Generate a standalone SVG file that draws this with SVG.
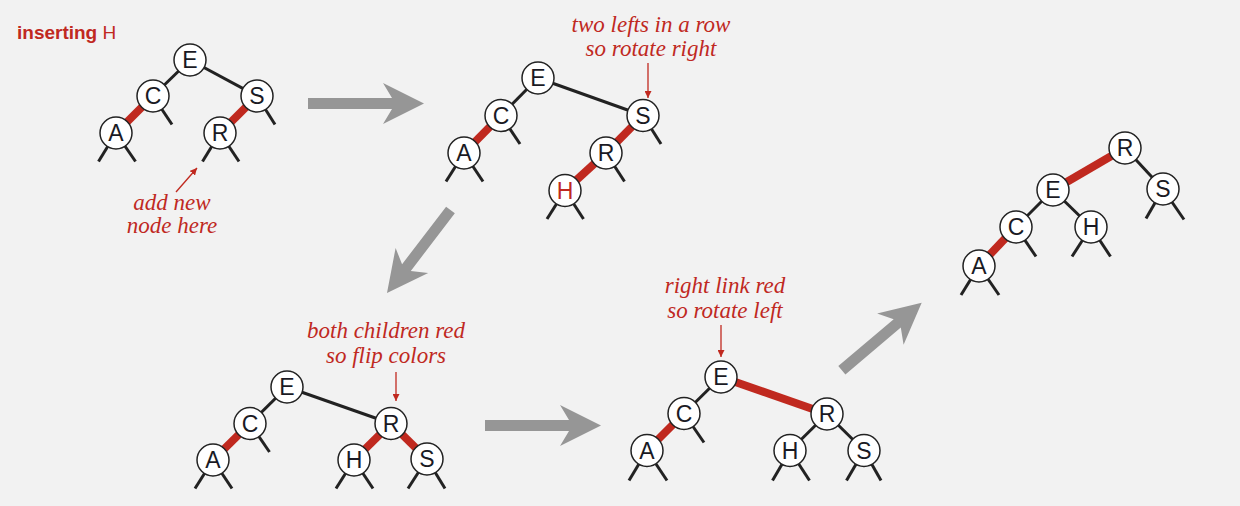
<svg xmlns="http://www.w3.org/2000/svg" width="1240" height="506" viewBox="0 0 1240 506">
<style>
.bg{fill:#f2f2f2}
.blk{stroke:#222;stroke-width:3;fill:none}
.red{stroke:#c0291f;stroke-width:8;fill:none}
.node circle{fill:#fff;stroke:#222;stroke-width:1.5}
.node text{font-family:"Liberation Sans",Arial,sans-serif;font-size:23px;fill:#1a1a24;text-anchor:middle}
.note{font-family:"Liberation Serif","Times New Roman",serif;font-style:italic;font-size:23px;fill:#c0291f;text-anchor:middle}
.pt{stroke:#c0291f;stroke-width:1.3;fill:none}
.big{fill:#969696}
.title{font-family:"Liberation Sans",Arial,sans-serif;font-size:19px;font-weight:bold;fill:#c0291f}
</style>
<defs>
<marker id="ah" viewBox="0 0 10 10" refX="10" refY="5" markerWidth="7" markerHeight="7" markerUnits="userSpaceOnUse" orient="auto">
<path d="M0,0 L10,5 L0,10 z" fill="#c0291f"/>
</marker>
<polygon id="garrow104" points="-104.5,-5.5 -32,-5.5 -41,-20.5 0,0 -41,20.5 -32,5.5 -104.5,5.5"/>
</defs>
<rect class="bg" x="0" y="0" width="1240" height="506"/>

<text class="title" x="17" y="39">inserting <tspan font-weight="normal">H</tspan></text>

<g id="connectors">
  <!-- tree 1 -->
  <line class="blk" x1="190" y1="60" x2="153" y2="96"/>
  <line class="blk" x1="190" y1="60" x2="257" y2="96"/>
  <line class="red" x1="153" y1="96" x2="116" y2="133"/>
  <line class="red" x1="257" y1="96" x2="220" y2="133"/>
  <line class="blk" x1="153" y1="96" x2="172" y2="124.5"/>
  <line class="blk" x1="257" y1="96" x2="275" y2="124.5"/>
  <line class="blk" x1="116" y1="133" x2="98.5" y2="161.5"/>
  <line class="blk" x1="116" y1="133" x2="135.5" y2="161.5"/>
  <line class="blk" x1="220" y1="133" x2="202.5" y2="161.5"/>
  <line class="blk" x1="220" y1="133" x2="239" y2="161.5"/>
  <!-- tree 2 -->
  <line class="blk" x1="538" y1="78" x2="501" y2="115.5"/>
  <line class="blk" x1="538" y1="78" x2="643" y2="115.5"/>
  <line class="red" x1="501" y1="115.5" x2="464" y2="153"/>
  <line class="red" x1="643" y1="115.5" x2="606" y2="153"/>
  <line class="red" x1="606" y1="153" x2="565" y2="190.5"/>
  <line class="blk" x1="501" y1="115.5" x2="520" y2="144"/>
  <line class="blk" x1="643" y1="115.5" x2="661" y2="144"/>
  <line class="blk" x1="464" y1="153" x2="446" y2="181.5"/>
  <line class="blk" x1="464" y1="153" x2="483" y2="181.5"/>
  <line class="blk" x1="606" y1="153" x2="624.5" y2="181.5"/>
  <line class="blk" x1="565" y1="190.5" x2="547" y2="219"/>
  <line class="blk" x1="565" y1="190.5" x2="583.5" y2="219"/>
  <!-- tree 3 -->
  <line class="blk" x1="287" y1="387" x2="250" y2="423.5"/>
  <line class="blk" x1="287" y1="387" x2="391" y2="423.5"/>
  <line class="red" x1="250" y1="423.5" x2="213" y2="460"/>
  <line class="red" x1="391" y1="423.5" x2="354" y2="460"/>
  <line class="red" x1="391" y1="423.5" x2="427" y2="459"/>
  <line class="blk" x1="250" y1="423.5" x2="269.5" y2="452"/>
  <line class="blk" x1="213" y1="460" x2="195" y2="488.5"/>
  <line class="blk" x1="213" y1="460" x2="232" y2="488.5"/>
  <line class="blk" x1="354" y1="460" x2="336" y2="488.5"/>
  <line class="blk" x1="354" y1="460" x2="373" y2="488.5"/>
  <line class="blk" x1="427" y1="459" x2="408" y2="488.5"/>
  <line class="blk" x1="427" y1="459" x2="445" y2="488.5"/>
  <!-- tree 4 -->
  <line class="blk" x1="721" y1="377" x2="684" y2="413.5"/>
  <line class="red" x1="721" y1="377" x2="827" y2="414"/>
  <line class="red" x1="684" y1="413.5" x2="647" y2="450.5"/>
  <line class="blk" x1="827" y1="414" x2="790" y2="450.5"/>
  <line class="blk" x1="827" y1="414" x2="864" y2="450.5"/>
  <line class="blk" x1="684" y1="413.5" x2="704" y2="442.5"/>
  <line class="blk" x1="647" y1="450.5" x2="629" y2="480.5"/>
  <line class="blk" x1="647" y1="450.5" x2="667" y2="480.5"/>
  <line class="blk" x1="790" y1="450.5" x2="772.5" y2="480.5"/>
  <line class="blk" x1="790" y1="450.5" x2="809.5" y2="480.5"/>
  <line class="blk" x1="864" y1="450.5" x2="846.5" y2="480.5"/>
  <line class="blk" x1="864" y1="450.5" x2="881" y2="480.5"/>
  <!-- tree 5 -->
  <line class="red" x1="1125" y1="148" x2="1053" y2="190"/>
  <line class="blk" x1="1125" y1="148" x2="1163" y2="189"/>
  <line class="blk" x1="1053" y1="190" x2="1016" y2="227"/>
  <line class="blk" x1="1053" y1="190" x2="1091" y2="227"/>
  <line class="red" x1="1016" y1="227" x2="979" y2="266"/>
  <line class="blk" x1="1163" y1="189" x2="1146" y2="218.5"/>
  <line class="blk" x1="1163" y1="189" x2="1184" y2="219.5"/>
  <line class="blk" x1="1016" y1="227" x2="1036" y2="256.5"/>
  <line class="blk" x1="1091" y1="227" x2="1072" y2="256.5"/>
  <line class="blk" x1="1091" y1="227" x2="1110.5" y2="256.5"/>
  <line class="blk" x1="979" y1="266" x2="961" y2="295"/>
  <line class="blk" x1="979" y1="266" x2="999" y2="295"/>
  <!-- annotation pointers -->
  <line class="pt" x1="176" y1="192" x2="197" y2="168" marker-end="url(#ah)"/>
  <line class="pt" x1="648" y1="63" x2="648" y2="98" marker-end="url(#ah)"/>
  <line class="pt" x1="396" y1="372" x2="396" y2="401" marker-end="url(#ah)"/>
  <line class="pt" x1="721" y1="325" x2="721" y2="357" marker-end="url(#ah)"/>
  <!-- transition arrows -->
  <polygon class="big" points="308,98 392,98 383,83 424,103.5 383,124 392,109 308,109"/>
  <polygon class="big" points="485,420 569,420 560,405 601,425.5 560,446 569,431 485,431"/>
  <use href="#garrow104" class="big" transform="translate(387,293) rotate(127.4)"/>
  <use href="#garrow104" class="big" transform="translate(919,305) rotate(-40.2) translate(3.5,0)"/>
</g>

<!-- tree 1 nodes -->
<g id="t1-E" class="node"><circle cx="190" cy="60" r="16"/><text x="190" y="68">E</text></g>
<g id="t1-C" class="node"><circle cx="153" cy="96" r="16"/><text x="153" y="104">C</text></g>
<g id="t1-S" class="node"><circle cx="257" cy="96" r="16"/><text x="257" y="104">S</text></g>
<g id="t1-A" class="node"><circle cx="116" cy="133" r="16"/><text x="116" y="141">A</text></g>
<g id="t1-R" class="node"><circle cx="220" cy="133" r="16"/><text x="220" y="141">R</text></g>

<!-- tree 2 nodes -->
<g id="t2-E" class="node"><circle cx="538" cy="78" r="16"/><text x="538" y="86">E</text></g>
<g id="t2-C" class="node"><circle cx="501" cy="115.5" r="16"/><text x="501" y="123.5">C</text></g>
<g id="t2-S" class="node"><circle cx="643" cy="115.5" r="16"/><text x="643" y="123.5">S</text></g>
<g id="t2-A" class="node"><circle cx="464" cy="153" r="16"/><text x="464" y="161">A</text></g>
<g id="t2-R" class="node"><circle cx="606" cy="153" r="16"/><text x="606" y="161">R</text></g>
<g id="t2-H" class="node"><circle cx="565" cy="190.5" r="16"/><text x="565" y="198.5" style="fill:#c0291f">H</text></g>

<!-- tree 3 nodes -->
<g id="t3-E" class="node"><circle cx="287" cy="387" r="16"/><text x="287" y="395">E</text></g>
<g id="t3-C" class="node"><circle cx="250" cy="423.5" r="16"/><text x="250" y="431.5">C</text></g>
<g id="t3-R" class="node"><circle cx="391" cy="423.5" r="16"/><text x="391" y="431.5">R</text></g>
<g id="t3-A" class="node"><circle cx="213" cy="460" r="16"/><text x="213" y="468">A</text></g>
<g id="t3-H" class="node"><circle cx="354" cy="460" r="16"/><text x="354" y="468">H</text></g>
<g id="t3-S" class="node"><circle cx="427" cy="459" r="16"/><text x="427" y="467">S</text></g>

<!-- tree 4 nodes -->
<g id="t4-E" class="node"><circle cx="721" cy="377" r="16"/><text x="721" y="385">E</text></g>
<g id="t4-C" class="node"><circle cx="684" cy="413.5" r="16"/><text x="684" y="421.5">C</text></g>
<g id="t4-R" class="node"><circle cx="827" cy="414" r="16"/><text x="827" y="422">R</text></g>
<g id="t4-A" class="node"><circle cx="647" cy="450.5" r="16"/><text x="647" y="458.5">A</text></g>
<g id="t4-H" class="node"><circle cx="790" cy="450.5" r="16"/><text x="790" y="458.5">H</text></g>
<g id="t4-S" class="node"><circle cx="864" cy="450.5" r="16"/><text x="864" y="458.5">S</text></g>

<!-- tree 5 nodes -->
<g id="t5-R" class="node"><circle cx="1125" cy="148" r="16"/><text x="1125" y="156">R</text></g>
<g id="t5-E" class="node"><circle cx="1053" cy="190" r="16"/><text x="1053" y="198">E</text></g>
<g id="t5-S" class="node"><circle cx="1163" cy="189" r="16"/><text x="1163" y="197">S</text></g>
<g id="t5-C" class="node"><circle cx="1016" cy="227" r="16"/><text x="1016" y="235">C</text></g>
<g id="t5-H" class="node"><circle cx="1091" cy="227" r="16"/><text x="1091" y="235">H</text></g>
<g id="t5-A" class="node"><circle cx="979" cy="266" r="16"/><text x="979" y="274">A</text></g>

<!-- notes -->
<text class="note" x="172" y="210">add new</text>
<text class="note" x="172" y="233">node here</text>
<text class="note" x="651" y="32">two lefts in a row</text>
<text class="note" x="651" y="56">so rotate right</text>
<text class="note" x="386" y="338">both children red</text>
<text class="note" x="386" y="363">so flip colors</text>
<text class="note" x="725" y="293">right link red</text>
<text class="note" x="725" y="318">so rotate left</text>
</svg>
